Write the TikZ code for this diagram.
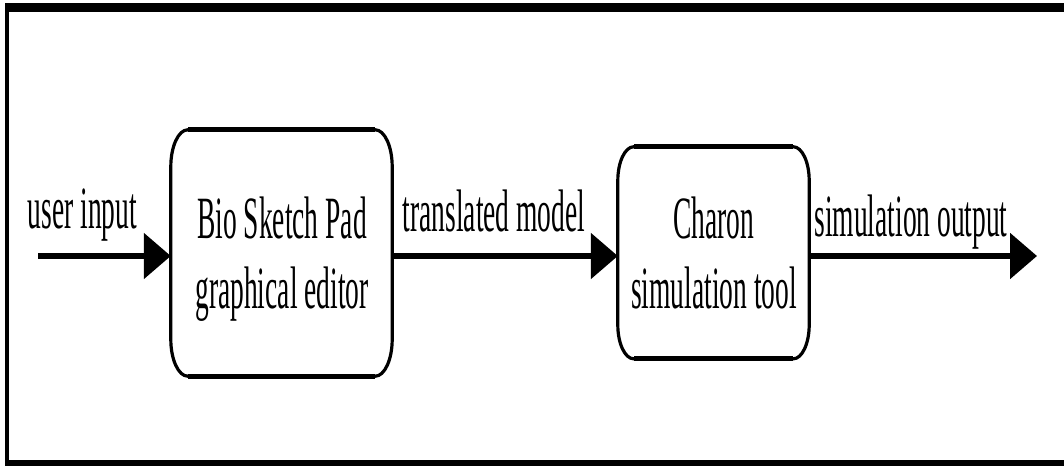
\documentclass[tikz,border=0pt]{standalone}
\usepackage{fontspec}
\setmainfont{Liberation Serif}[FakeStretch=0.458]
\usetikzlibrary{arrows.meta}
\newcommand\ellbox[3]{%
  \draw[boxline] ([xshift=#2]#1.north west) -- ([xshift=-#2]#1.north east)
    arc[start angle=90,end angle=0,x radius=#2,y radius=#3]
    -- ([yshift=#3]#1.south east)
    arc[start angle=0,end angle=-90,x radius=#2,y radius=#3]
    -- ([xshift=#2]#1.south west)
    arc[start angle=270,end angle=180,x radius=#2,y radius=#3]
    -- ([yshift=-#3]#1.north west)
    arc[start angle=180,end angle=90,x radius=#2,y radius=#3] -- cycle;
  \draw[boxedge] ([xshift=#2]#1.north west) -- ([xshift=-#2]#1.north east);
  \draw[boxedge] ([xshift=#2]#1.south west) -- ([xshift=-#2]#1.south east);
}
\begin{document}
\begin{tikzpicture}[x=1pt,y=1pt,
  txt/.style={font=\fontsize{60}{69}\selectfont, inner sep=0pt, anchor=base},
  boxshape/.style={inner sep=0pt, draw=none},
  boxline/.style={line width=3.2pt, line join=round},
  boxedge/.style={line width=5pt},
  flow/.style={line width=5.5pt, -{Triangle[length=27pt,width=45pt]}},
  frame/.style={fill=black}]
\useasboundingbox (0,0) rectangle (1064,466);
% outer frame
\fill[frame] (5,454.3) rectangle (1064,462.7);
\fill[frame] (5,0) rectangle (9,462.7);
\fill[frame] (5,0) rectangle (1064,6.3);
% boxes
\node[boxshape, minimum width=221pt, minimum height=246pt] (b1) at (281.5,213) {};
\node[boxshape, minimum width=191pt, minimum height=211.7pt] (b2) at (713.5,213.2) {};
\ellbox{b1}{17pt}{37pt}
\ellbox{b2}{16pt}{34pt}
% box texts
\node[txt] (t1a) at (282,227) {Bio Sketch Pad};
\node[txt] (t1b) at (282,158) {graphical editor};
\node[txt] (t2a) at (714,227) {Charon};
\node[txt] (t2b) at (714,158) {simulation tool};
% connectors
\coordinate (in) at (38,210);
\coordinate (out) at (1037,210);
\draw[flow] (in) -- (in -| b1.west);
\draw[flow] (b1.east |- in) -- (b2.west |- in);
\draw[flow] (b2.east |- in) -- (out);
% connector labels
\node[txt] (l1) at (82.5,237) {user input};
\node[txt] (l2) at (494,234.3) {translated model};
\node[txt] (l3) at (911,229.5) {simulation output};
\end{tikzpicture}
\end{document}
